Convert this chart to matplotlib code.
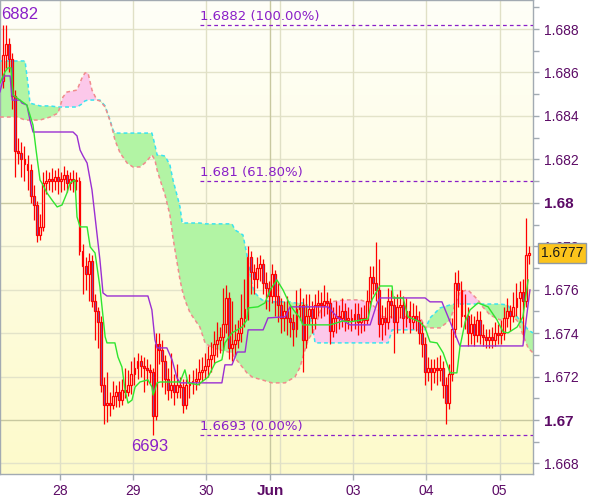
import numpy as np
import matplotlib
matplotlib.use("Agg")
import matplotlib.pyplot as plt
from matplotlib.ticker import MultipleLocator
from matplotlib.transforms import blended_transform_factory

# hourly bars (x = bar index)
first_open = 1.6856
closes = [
    1.6868, 1.6873, 1.6866, 1.6849, 1.6824, 1.6823, 1.6820, 1.6818, 1.6815, 1.6803,
    1.6799, 1.6785, 1.6789, 1.6809, 1.6810, 1.6811, 1.6810, 1.6812, 1.6810, 1.6811,
    1.6813, 1.6809, 1.6811, 1.6810, 1.6810, 1.6778, 1.6771, 1.6767, 1.6773, 1.6755,
    1.6750, 1.6745, 1.6716, 1.6707, 1.6708, 1.6707, 1.6711, 1.6713, 1.6709, 1.6714,
    1.6713, 1.6716, 1.6721, 1.6724, 1.6727, 1.6725, 1.6724, 1.6723, 1.6722, 1.6702,
    1.6735, 1.6732, 1.6727, 1.6719, 1.6714, 1.6716, 1.6713, 1.6716, 1.6715, 1.6707,
    1.6716, 1.6717, 1.6718, 1.6719, 1.6722, 1.6723, 1.6725, 1.6728, 1.6730, 1.6735,
    1.6737, 1.6738, 1.6744, 1.6756, 1.6733, 1.6735, 1.6737, 1.6740, 1.6747, 1.6751,
    1.6775, 1.6768, 1.6765, 1.6770, 1.6772, 1.6763, 1.6761, 1.6757, 1.6767, 1.6757,
    1.6753, 1.6747, 1.6750, 1.6747, 1.6745, 1.6742, 1.6751, 1.6753, 1.6737, 1.6748,
    1.6751, 1.6747, 1.6753, 1.6754, 1.6753, 1.6755, 1.6754, 1.6741, 1.6747, 1.6748,
    1.6747, 1.6750, 1.6746, 1.6747, 1.6746, 1.6749, 1.6745, 1.6747, 1.6746, 1.6755,
    1.6766, 1.6763, 1.6760, 1.6744, 1.6747, 1.6745, 1.6755, 1.6753, 1.6745, 1.6752,
    1.6753, 1.6747, 1.6750, 1.6745, 1.6748, 1.6746, 1.6740, 1.6735, 1.6722, 1.6724,
    1.6722, 1.6724, 1.6723, 1.6724, 1.6716, 1.6708, 1.6721, 1.6742, 1.6763, 1.6760,
    1.6748, 1.6748, 1.6740, 1.6744, 1.6739, 1.6746, 1.6739, 1.6738, 1.6737, 1.6738,
    1.6737, 1.6740, 1.6739, 1.6740, 1.6747, 1.6750, 1.6748, 1.6752, 1.6756, 1.6759,
    1.6755, 1.6776, 1.6777,
]
highs = [
    1.6882, 1.6882, 1.6876, 1.6869, 1.6852, 1.6830, 1.6828, 1.6826, 1.6822, 1.6818,
    1.6808, 1.6801, 1.6795, 1.6814, 1.6815, 1.6814, 1.6816, 1.6815, 1.6816, 1.6814,
    1.6817, 1.6815, 1.6814, 1.6815, 1.6814, 1.6812, 1.6781, 1.6775, 1.6777, 1.6776,
    1.6758, 1.6752, 1.6748, 1.6720, 1.6722, 1.6713, 1.6718, 1.6716, 1.6718, 1.6719,
    1.6724, 1.6723, 1.6727, 1.6729, 1.6731, 1.6730, 1.6729, 1.6728, 1.6726, 1.6724,
    1.6740, 1.6740, 1.6737, 1.6730, 1.6724, 1.6731, 1.6721, 1.6726, 1.6720, 1.6719,
    1.6719, 1.6721, 1.6723, 1.6724, 1.6728, 1.6729, 1.6731, 1.6734, 1.6736, 1.6741,
    1.6745, 1.6743, 1.6761, 1.6762, 1.6759, 1.6755, 1.6744, 1.6746, 1.6758, 1.6765,
    1.6780, 1.6778, 1.6772, 1.6775, 1.6776, 1.6774, 1.6768, 1.6764, 1.6772, 1.6769,
    1.6763, 1.6756, 1.6755, 1.6757, 1.6753, 1.6749, 1.6760, 1.6761, 1.6756, 1.6758,
    1.6758, 1.6755, 1.6758, 1.6760, 1.6759, 1.6762, 1.6759, 1.6756, 1.6752, 1.6755,
    1.6753, 1.6756, 1.6754, 1.6752, 1.6751, 1.6754, 1.6754, 1.6752, 1.6753, 1.6760,
    1.6771, 1.6771, 1.6782, 1.6774, 1.6753, 1.6752, 1.6761, 1.6760, 1.6757, 1.6758,
    1.6760, 1.6757, 1.6756, 1.6755, 1.6754, 1.6753, 1.6750, 1.6745, 1.6738, 1.6729,
    1.6728, 1.6728, 1.6729, 1.6730, 1.6727, 1.6720, 1.6726, 1.6747, 1.6768, 1.6769,
    1.6764, 1.6758, 1.6752, 1.6749, 1.6748, 1.6750, 1.6750, 1.6744, 1.6742, 1.6742,
    1.6743, 1.6745, 1.6744, 1.6746, 1.6752, 1.6756, 1.6753, 1.6759, 1.6763, 1.6764,
    1.6765, 1.6793, 1.6780,
]
lows = [
    1.6853, 1.6862, 1.6860, 1.6843, 1.6812, 1.6818, 1.6812, 1.6810, 1.6806, 1.6800,
    1.6792, 1.6782, 1.6783, 1.6787, 1.6804, 1.6806, 1.6805, 1.6806, 1.6804, 1.6805,
    1.6806, 1.6805, 1.6806, 1.6805, 1.6806, 1.6776, 1.6758, 1.6760, 1.6755, 1.6752,
    1.6737, 1.6733, 1.6713, 1.6698, 1.6699, 1.6702, 1.6705, 1.6706, 1.6706, 1.6707,
    1.6710, 1.6711, 1.6712, 1.6716, 1.6719, 1.6720, 1.6713, 1.6716, 1.6717, 1.6693,
    1.6700, 1.6726, 1.6715, 1.6712, 1.6709, 1.6710, 1.6707, 1.6710, 1.6710, 1.6703,
    1.6705, 1.6710, 1.6712, 1.6714, 1.6716, 1.6718, 1.6719, 1.6720, 1.6722, 1.6726,
    1.6729, 1.6731, 1.6732, 1.6740, 1.6728, 1.6727, 1.6730, 1.6733, 1.6736, 1.6743,
    1.6746, 1.6758, 1.6758, 1.6761, 1.6764, 1.6758, 1.6751, 1.6750, 1.6754, 1.6748,
    1.6745, 1.6740, 1.6741, 1.6739, 1.6738, 1.6734, 1.6738, 1.6746, 1.6722, 1.6733,
    1.6744, 1.6740, 1.6742, 1.6748, 1.6747, 1.6748, 1.6749, 1.6735, 1.6738, 1.6740,
    1.6742, 1.6743, 1.6741, 1.6742, 1.6741, 1.6742, 1.6739, 1.6740, 1.6741, 1.6744,
    1.6752, 1.6758, 1.6755, 1.6738, 1.6737, 1.6739, 1.6742, 1.6747, 1.6731, 1.6740,
    1.6747, 1.6740, 1.6743, 1.6740, 1.6742, 1.6741, 1.6735, 1.6729, 1.6716, 1.6718,
    1.6714, 1.6717, 1.6716, 1.6718, 1.6710, 1.6698, 1.6705, 1.6718, 1.6738, 1.6752,
    1.6743, 1.6742, 1.6734, 1.6735, 1.6734, 1.6736, 1.6735, 1.6734, 1.6733, 1.6733,
    1.6733, 1.6734, 1.6735, 1.6735, 1.6737, 1.6743, 1.6741, 1.6745, 1.6748, 1.6745,
    1.6736, 1.6752, 1.6772,
]

# ichimoku lines (vertices)
tenkan_x = [-1.0, 0.6, 1.6, 2.6, 3.3, 5.5, 7.8, 9.1, 9.8, 10.8, 12.1, 12.7, 14.4, 16.0,
            17.7, 19.3, 20.9, 21.9, 23.5, 24.2, 25.2, 27.5, 28.5, 30.1, 31.7, 33.4, 34.0,
            36.6, 37.6, 38.9, 39.9, 40.9, 42.2, 43.2, 44.8, 47.4, 48.7, 49.1, 50.4, 51.4,
            57.9, 59.5, 60.5, 63.8, 67.1, 69.4, 71.6, 72.6, 74.9, 78.2, 79.8, 80.2, 83.4,
            85.7, 87.4, 89.6, 91.6, 93.9, 95.5, 97.2, 98.1, 107.0, 111.2, 113.5, 119.4,
            120.7, 123.3, 127.3, 127.6, 130.9, 132.5, 136.4, 138.1, 139.7, 142.0, 144.0,
            146.3, 148.5, 149.5, 151.2, 152.8, 155.4, 158.7, 161.6, 163.6, 165.2, 168.2,
            170.1, 171.8]
tenkan = [1.68552, 1.68602, 1.68621, 1.68621, 1.68496, 1.68473, 1.68450, 1.68390, 1.68358,
          1.68243, 1.68105, 1.68091, 1.68045, 1.68013, 1.67981, 1.67990, 1.68045, 1.68091,
          1.68105, 1.67935, 1.67889, 1.67889, 1.67797, 1.67769, 1.67612, 1.67383, 1.67355,
          1.67355, 1.67290, 1.67244, 1.67138, 1.67078, 1.67092, 1.67152, 1.67175, 1.67185,
          1.67152, 1.67115, 1.67171, 1.67175, 1.67175, 1.67231, 1.67171, 1.67162, 1.67198,
          1.67263, 1.67277, 1.67355, 1.67401, 1.67428, 1.67461, 1.67516, 1.67521, 1.67539,
          1.67599, 1.67645, 1.67599, 1.67530, 1.67498, 1.67470, 1.67438, 1.67438, 1.67456,
          1.67452, 1.67465, 1.67553, 1.67617, 1.67617, 1.67562, 1.67562, 1.67475, 1.67452,
          1.67424, 1.67360, 1.67355, 1.67309, 1.67217, 1.67217, 1.67336, 1.67452, 1.67507,
          1.67539, 1.67521, 1.67461, 1.67406, 1.67401, 1.67428, 1.67475, 1.67645]

kijun_x = [-1.0, 0.3, 2.3, 3.0, 5.5, 6.2, 7.8, 8.8, 9.8, 22.9, 24.2, 25.2, 26.2, 27.5,
           29.1, 30.7, 31.7, 32.7, 34.0, 47.4, 48.7, 49.7, 50.4, 53.6, 55.3, 56.9, 57.9,
           71.6, 72.6, 74.9, 76.6, 79.2, 80.2, 85.1, 86.7, 92.3, 93.9, 106.3, 109.6, 111.9,
           113.5, 120.1, 122.4, 123.3, 138.1, 139.7, 143.6, 149.5, 170.1, 172.4]
kijun = [1.68511, 1.68584, 1.68584, 1.68473, 1.68473, 1.68459, 1.68450, 1.68381, 1.68326,
         1.68326, 1.68308, 1.68243, 1.68215, 1.68183, 1.68059, 1.67861, 1.67737, 1.67585,
         1.67571, 1.67571, 1.67507, 1.67369, 1.67332, 1.67332, 1.67277, 1.67194, 1.67171,
         1.67171, 1.67254, 1.67254, 1.67313, 1.67313, 1.67415, 1.67415, 1.67470, 1.67475,
         1.67521, 1.67521, 1.67470, 1.67452, 1.67438, 1.67438, 1.67539, 1.67562, 1.67562,
         1.67544, 1.67544, 1.67341, 1.67341, 1.67599]

span_x = [-1.0, 1.6, 4.6, 7.2, 8.2, 8.8, 12.1, 15.4, 18.0, 19.6,
          20.9, 24.2, 25.8, 26.8, 27.8, 29.1, 30.7, 31.7, 33.4, 35.0,
          36.0, 36.6, 38.3, 40.6, 42.5, 44.8, 46.4, 48.7, 49.7, 50.4,
          51.4, 53.0, 54.6, 55.6, 56.9, 57.9, 58.6, 59.5, 61.2, 64.4,
          66.1, 68.4, 74.9, 75.9, 78.5, 79.8, 81.5, 82.4, 84.7, 88.0,
          92.3, 93.9, 95.5, 97.2, 98.1, 99.5, 100.4, 101.4, 102.1, 103.1,
          104.4, 107.0, 111.9, 114.2, 116.8, 120.1, 122.7, 124.3, 126.0, 127.3,
          129.9, 133.2, 136.4, 138.1, 139.7, 143.0, 146.3, 147.9, 149.5, 152.1,
          155.4, 156.7, 159.3, 162.6, 164.9, 166.5, 168.5, 170.1, 171.8, 173.4]
span_a = [1.68653, 1.68653, 1.68653, 1.68653, 1.68542, 1.68459, 1.68446, 1.68446, 1.68441, 1.68441,
          1.68441, 1.68441, 1.68455, 1.68469, 1.68473, 1.68473, 1.68473, 1.68473, 1.68446, 1.68381,
          1.68335, 1.68321, 1.68321, 1.68321, 1.68321, 1.68321, 1.68321, 1.68321, 1.68266, 1.68220,
          1.68220, 1.68215, 1.68174, 1.68105, 1.68036, 1.67981, 1.67907, 1.67907, 1.67907, 1.67907,
          1.67903, 1.67903, 1.67903, 1.67875, 1.67852, 1.67760, 1.67622, 1.67585, 1.67553, 1.67544,
          1.67544, 1.67544, 1.67539, 1.67539, 1.67539, 1.67530, 1.67484, 1.67415, 1.67355, 1.67355,
          1.67355, 1.67355, 1.67355, 1.67355, 1.67355, 1.67355, 1.67355, 1.67355, 1.67355, 1.67415,
          1.67415, 1.67415, 1.67415, 1.67415, 1.67470, 1.67516, 1.67530, 1.67534, 1.67534, 1.67534,
          1.67534, 1.67534, 1.67534, 1.67534, 1.67530, 1.67507, 1.67470, 1.67447, 1.67415, 1.67401]
span_b = [1.68395, 1.68395, 1.68395, 1.68381, 1.68381, 1.68381, 1.68381, 1.68395, 1.68413, 1.68487,
          1.68510, 1.68519, 1.68574, 1.68598, 1.68598, 1.68519, 1.68473, 1.68469, 1.68441, 1.68377,
          1.68326, 1.68289, 1.68229, 1.68183, 1.68165, 1.68165, 1.68183, 1.68220, 1.68197, 1.68151,
          1.68105, 1.68036, 1.67944, 1.67838, 1.67728, 1.67645, 1.67599, 1.67553, 1.67493, 1.67428,
          1.67355, 1.67332, 1.67309, 1.67286, 1.67240, 1.67217, 1.67198, 1.67194, 1.67185, 1.67171,
          1.67171, 1.67185, 1.67198, 1.67244, 1.67290, 1.67355, 1.67383, 1.67401, 1.67438, 1.67470,
          1.67530, 1.67544, 1.67553, 1.67553, 1.67553, 1.67539, 1.67507, 1.67475, 1.67475, 1.67475,
          1.67475, 1.67475, 1.67475, 1.67428, 1.67424, 1.67424, 1.67461, 1.67530, 1.67590, 1.67599,
          1.67553, 1.67525, 1.67484, 1.67461, 1.67470, 1.67484, 1.67452, 1.67392, 1.67332, 1.67309]

fib_levels = [1.6882, 1.681, 1.6693]
fib_labels = ["1.6882 (100.00%)", "1.681 (61.80%)", "1.6693 (0.00%)"]
fib_start = 64.4

day_ticks = [18.5, 42.5, 66.5, 87.5, 114.5, 138.5, 162.5]
day_labels = ["28", "29", "30", "Jun", "03", "04", "05"]
day_grid = [18.5, 42.5, 66.5, 87.5, 90.5, 114.5, 138.5, 162.5]

price_ticks = [1.668, 1.670, 1.672, 1.674, 1.676, 1.678, 1.680, 1.682, 1.684, 1.686, 1.688]
price_labels = ["1.668", "1.67", "1.672", "1.674", "1.676", "1.678", "1.68",
                "1.682", "1.684", "1.686", "1.688"]
bold_labels = ["1.67", "1.68", "Jun"]

last_price = 1.6777
hi_text, hi_x, hi_y = "6882", -0.7, 1.68865
lo_text, lo_x, lo_y = "6693", 48.1, 1.66880

PURPLE_TXT = "#5c0b66"
FIB = "#8a1fc8"
EDGE = "#a2aab2"

fig = plt.figure(figsize=(6, 4.97), dpi=100)
ax = fig.add_axes([0, 23 / 497, 533 / 600, 474 / 497])

# yellowish vertical gradient background
g = np.linspace(0, 1, 256)[:, None, None]
top = np.array([255, 255, 248]) / 255
bot = np.array([253, 250, 203]) / 255
ax.imshow(top + (bot - top) * g, extent=[0, 1, 0, 1], transform=ax.transAxes,
          aspect="auto", zorder=0)

ax.set_xlim(-1, 173.4)
ax.set_ylim(1.667514, 1.689337)

for t, lab in zip(price_ticks, price_labels):
    ax.axhline(t, color="#c8c8a0" if lab in bold_labels else "#e3e3c9", lw=1, zorder=1)
for d in day_grid:
    ax.axvline(d, color="#c8c8a0" if d == 87.5 else "#e0e0c6", lw=1, zorder=1)

# cloud
sx = np.array(span_x)
sa = np.array(span_a)
sb = np.array(span_b)
ax.fill_between(sx, sa, sb, where=sa >= sb, interpolate=True, color="#b2f4a4", lw=0, zorder=2)
ax.fill_between(sx, sa, sb, where=sa < sb, interpolate=True, color="#fcc8ea", lw=0, zorder=2)
ax.plot(sx, sa, color="#3ae3f0", lw=1.1, ls=(0, (2.5, 2)), zorder=3)
ax.plot(sx, sb, color="#f08c8c", lw=1.1, ls=(0, (2.5, 2)), zorder=3)

# fibonacci levels
ax.hlines(fib_levels, fib_start, 173.4, colors=FIB, lw=0.9, linestyles=(0, (3, 2.5)), zorder=3)
for lv, lab in zip(fib_levels, fib_labels):
    ax.annotate(lab, (fib_start + 0.2, lv), xytext=(0, 1.5), textcoords="offset points",
                ha="left", va="bottom", color=FIB, fontsize=9.5, family="DejaVu Sans", zorder=7)

# candles
o = np.array([first_open] + closes[:-1])
c = np.array(closes)
h = np.array(highs)
l = np.array(lows)
x = np.arange(len(c))
body_lo = np.minimum(o, c)
body_hi = np.maximum(o, c)
ax.vlines(x, body_hi, np.maximum(h, body_hi), color="red", lw=0.9, zorder=4)
ax.vlines(x, np.minimum(l, body_lo), body_lo, color="red", lw=0.9, zorder=4)
faces = ["#6a62c8" if cc < oo else "#fffbe2" for oo, cc in zip(o, c)]
ax.bar(x, np.maximum(body_hi - body_lo, 0.00004), bottom=body_lo, width=0.62,
       color=faces, edgecolor="red", lw=0.9, zorder=5)

ax.plot(kijun_x, kijun, color="#9a2fd2", lw=1.0, zorder=6)
ax.plot(tenkan_x, tenkan, color="#2fe52f", lw=1.0, zorder=6)

# high / low markers
ax.text(hi_x, hi_y, hi_text, ha="left", va="center", color=FIB, fontsize=12,
        family="Liberation Sans", zorder=7)
ax.text(lo_x, lo_y, lo_text, ha="center", va="center", color=FIB, fontsize=12,
        family="Liberation Sans", zorder=7)

# axes
ax.yaxis.tick_right()
ax.set_yticks(price_ticks)
ax.set_yticklabels(price_labels)
ax.yaxis.set_minor_locator(MultipleLocator(0.001))
ax.set_xticks(day_ticks)
ax.set_xticklabels(day_labels)
ax.tick_params(axis="y", which="both", length=4, width=1, color=EDGE, pad=4,
               labelsize=10, labelcolor=PURPLE_TXT)
ax.tick_params(axis="x", length=4, width=1, color=EDGE, pad=3,
               labelsize=10, labelcolor=PURPLE_TXT)
for lab in ax.get_yticklabels() + ax.get_xticklabels():
    lab.set_family("Liberation Sans")
    if lab.get_text() in bold_labels:
        lab.set_fontweight("bold")
        lab.set_fontsize(11)
for sp in ax.spines.values():
    sp.set_color(EDGE)
    sp.set_linewidth(1)

# current price tag
tr = blended_transform_factory(ax.transAxes, ax.transData)
ax.text(1.015, last_price, "1.6777", transform=tr, ha="left", va="center", fontsize=10,
        family="Liberation Sans", color="#1a1a1a", zorder=10, clip_on=False,
        bbox=dict(boxstyle="square,pad=0.2", fc="#fcc41c", ec="#8f9aa5", lw=1))

fig.savefig("out.png", dpi=100)
